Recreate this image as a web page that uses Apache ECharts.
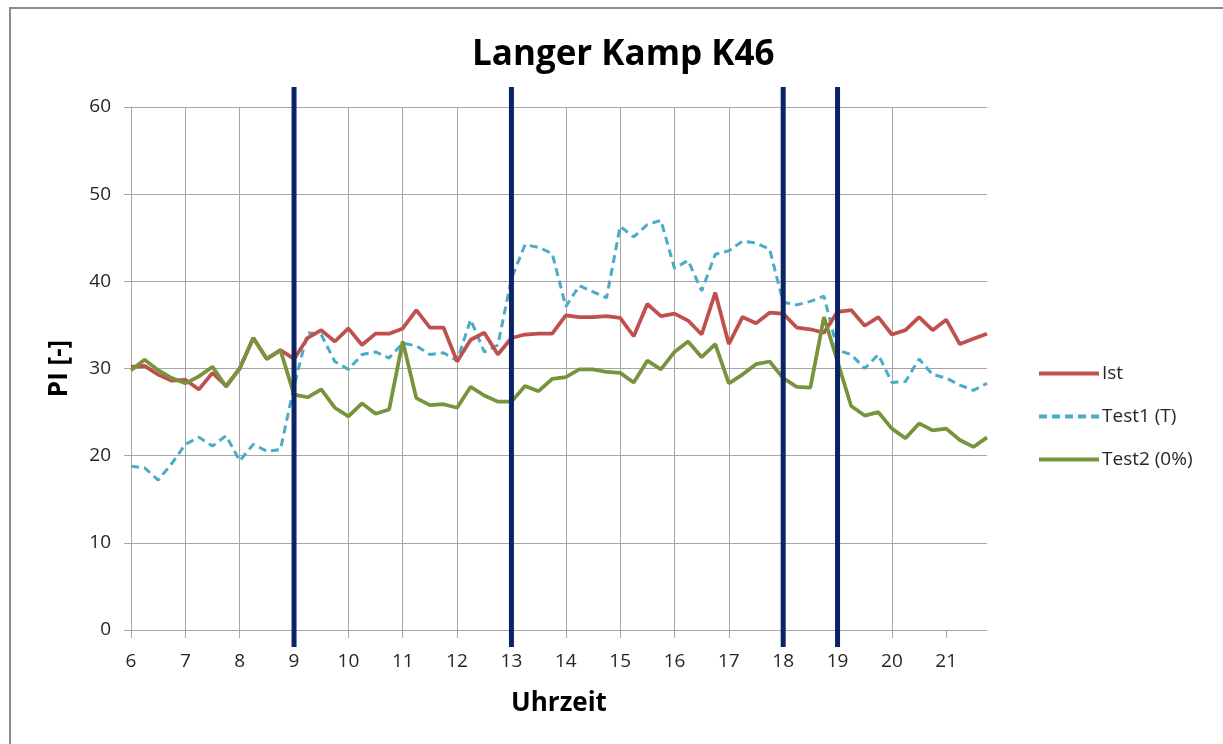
<!DOCTYPE html>
<html>
<head>
<meta charset="utf-8">
<script src="https://cdn.jsdelivr.net/npm/echarts@6/dist/echarts.min.js"></script>
<style>
html,body{margin:0;padding:0;background:#fff;}
#chart{width:1223px;height:744px;}
</style>
</head>
<body>
<div id="chart"></div>
<script>
// time of day in hours, 15-minute steps from 6:00 to 21:45
const hours = [];
for (let i = 0; i < 64; i++) hours.push(6 + i * 0.25);

const xTickLabels = [6,7,8,9,10,11,12,13,14,15,16,17,18,19,20,21];
const yTickLabels = [0,10,20,30,40,50,60];
const markerHours = [9, 13, 18, 19];

const ist = [
  30.2, 30.3, 29.3, 28.6, 28.7, 27.6, 29.5, 28.0,
  30.0, 33.5, 31.1, 32.1, 31.1, 33.5, 34.4, 33.1,
  34.6, 32.7, 34.0, 34.0, 34.6, 36.7, 34.7, 34.7,
  30.8, 33.3, 34.1, 31.6, 33.5, 33.9, 34.0, 34.0,
  36.1, 35.9, 35.9, 36.0, 35.8, 33.7, 37.4, 36.0,
  36.3, 35.5, 33.9, 38.7, 32.8, 35.9, 35.2, 36.4,
  36.3, 34.7, 34.5, 34.1, 36.5, 36.7, 34.9, 35.9,
  33.9, 34.4, 35.9, 34.4, 35.6, 32.8, 33.4, 34.0
];
const test1 = [
  18.8, 18.6, 17.2, 19.1, 21.3, 22.1, 21.1, 22.3,
  19.4, 21.3, 20.5, 20.7, 28.0, 34.1, 33.9, 30.8,
  29.9, 31.6, 31.9, 31.2, 32.9, 32.6, 31.6, 31.8,
  30.9, 35.6, 31.9, 32.7, 40.3, 44.2, 43.9, 43.2,
  37.1, 39.5, 38.8, 38.1, 46.3, 45.1, 46.5, 47.0,
  41.5, 42.4, 38.9, 43.1, 43.5, 44.6, 44.4, 43.7,
  37.6, 37.3, 37.7, 38.3, 32.1, 31.6, 30.0, 31.6,
  28.4, 28.5, 31.1, 29.3, 28.9, 28.1, 27.5, 28.3
];
const test2 = [
  29.8, 31.0, 29.8, 28.9, 28.3, 29.1, 30.2, 27.9,
  30.0, 33.5, 31.1, 32.1, 27.0, 26.7, 27.6, 25.5,
  24.5, 26.0, 24.8, 25.3, 33.1, 26.6, 25.8, 25.9,
  25.5, 27.9, 26.9, 26.2, 26.2, 28.0, 27.4, 28.8,
  29.0, 29.9, 29.9, 29.6, 29.5, 28.4, 30.9, 29.9,
  31.9, 33.1, 31.3, 32.8, 28.3, 29.3, 30.5, 30.8,
  28.9, 27.9, 27.8, 35.9, 30.8, 25.7, 24.6, 25.0,
  23.1, 22.0, 23.7, 22.9, 23.1, 21.8, 21.0, 22.1
];

const FONT = '"Open Sans", "Liberation Sans", sans-serif';
const pair = arr => hours.map((h, i) => [h, arr[i]]);
const gridColor = '#A6A6A6';

const solidIcon = 'path://M0,0H60V4H0Z';
const dashIcon = 'path://M0,0h8v4h-8z M13,0h8v4h-8z M26,0h8v4h-8z M39,0h8v4h-8z M52,0h8v4h-8z';

const chart = echarts.init(document.getElementById('chart'), null, {renderer: 'canvas'});

const markerSeries = markerHours.map(h => ({
  type: 'line',
  xAxisIndex: 1, yAxisIndex: 1,
  data: [[h, 0], [h, 1]],
  symbol: 'none',
  silent: true,
  z: 10,
  lineStyle: {color: '#0C2365', width: 5, cap: 'butt'}
}));

chart.setOption({
  animation: false,
  backgroundColor: '#fff',
  graphic: [{
    type: 'rect',
    shape: {x: 10, y: 8, width: 1300, height: 800},
    style: {fill: 'none', stroke: '#8C8C8C', lineWidth: 2},
    silent: true, z: -10
  }],
  title: {
    text: 'Langer Kamp K46',
    left: 467,
    top: 33,
    textStyle: {fontFamily: FONT, fontWeight: 'bold', fontSize: 35, color: '#000'}
  },
  legend: {
    orient: 'vertical',
    left: 1034,
    top: 359,
    itemWidth: 62,
    itemHeight: 4,
    itemGap: 24,
    data: [
      {name: 'Ist', icon: solidIcon},
      {name: 'Test1 (T)', icon: dashIcon},
      {name: 'Test2 (0%)', icon: solidIcon}
    ],
    textStyle: {fontFamily: FONT, fontSize: 19, color: '#262626', padding: [0, 0, 0, -3]}
  },
  grid: [
    {left: 131, right: 236, top: 107, bottom: 114},
    {left: 131, right: 236, top: 87, bottom: 97}
  ],
  xAxis: [{
    type: 'value',
    min: 6, max: 21.75, interval: 1,
    name: 'Uhrzeit',
    nameLocation: 'middle',
    nameGap: 61,
    nameTextStyle: {fontFamily: FONT, fontWeight: 'bold', fontSize: 26, color: '#000'},
    axisLine: {show: true, onZero: false, lineStyle: {color: gridColor, width: 1}},
    axisTick: {show: true, length: 8, inside: false, lineStyle: {color: gridColor}, customValues: xTickLabels},
    axisLabel: {fontFamily: FONT, fontSize: 19, color: '#262626', margin: 22, customValues: xTickLabels,
      formatter: v => String(v)},
    splitLine: {show: true, showMaxLine: false, lineStyle: {color: gridColor, width: 1}}
  }, {
    gridIndex: 1, type: 'value', min: 6, max: 21.75, show: false
  }],
  yAxis: [{
    type: 'value',
    min: 0, max: 60, interval: 10,
    name: 'PI [-]',
    nameLocation: 'middle',
    nameGap: 58,
    nameRotate: 90,
    nameTextStyle: {fontFamily: FONT, fontWeight: 'bold', fontSize: 26, color: '#000'},
    axisLine: {show: true, lineStyle: {color: gridColor, width: 1}},
    axisTick: {show: true, length: 7, lineStyle: {color: gridColor}},
    axisLabel: {fontFamily: FONT, fontSize: 19, color: '#262626', margin: 20},
    splitLine: {show: true, lineStyle: {color: gridColor, width: 1}}
  }, {
    gridIndex: 1, type: 'value', min: 0, max: 1, show: false
  }],
  series: [{
    name: 'Ist', type: 'line', data: pair(ist), symbol: 'none', z: 4,
    itemStyle: {color: '#C0504D'},
    lineStyle: {color: '#C0504D', width: 3.75}
  }, {
    name: 'Test1 (T)', type: 'line', data: pair(test1), symbol: 'none', z: 3,
    itemStyle: {color: '#4BACC6'},
    lineStyle: {color: '#4BACC6', width: 3, type: [8, 5]}
  }, {
    name: 'Test2 (0%)', type: 'line', data: pair(test2), symbol: 'none', z: 5,
    itemStyle: {color: '#77933C'},
    lineStyle: {color: '#77933C', width: 3.75}
  }].concat(markerSeries)
});
</script>
</body>
</html>
